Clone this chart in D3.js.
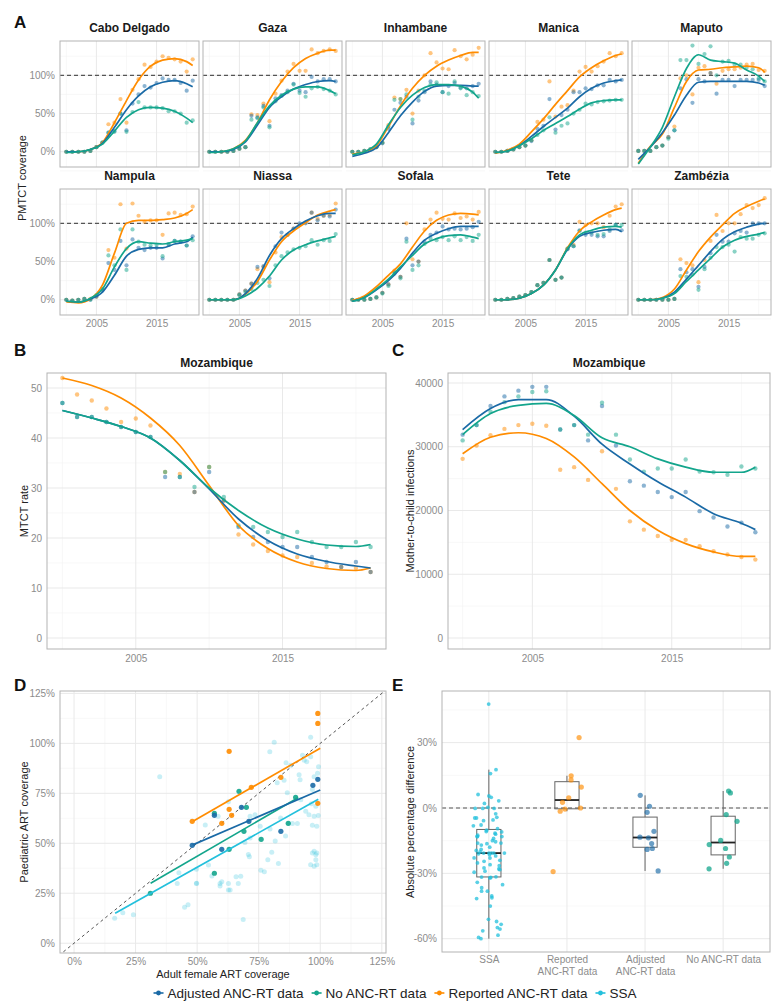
<!DOCTYPE html>
<html>
<head>
<meta charset="utf-8">
<script src="https://cdn.jsdelivr.net/npm/d3@7"></script>
<style>
  body { margin: 0; background: #fff; }
  svg { font-family: "Liberation Sans", Arial, sans-serif; }
</style>
</head>
<body>
<svg id="fig" width="779" height="1006"></svg>
<script>
// ---------- data ----------
const years = [2000,2001,2002,2003,2004,2005,2006,2007,2008,2009,2010,2011,2012,2013,2014,2015,2016,2017,2018,2019,2020,2021];
const fitYears = [2000,2002,2004,2006,2008,2010,2012,2014,2016,2018,2020,2021];
const provinces = ["Cabo Delgado","Gaza","Inhambane","Manica","Maputo","Nampula","Niassa","Sofala","Tete","Zambézia"];

// panel A: PMTCT coverage (%), one row per province
const reportedPts = [
  [0,0,0,0,1,6,12,36,38,69,38,81,95,114,111,118,125,123,121,118,105,121],
  [0,0,0,0,1,4,6,49,48,63,40,76,93,105,115,106,106,134,129,132,134,132],
  [0,0,1,3,6,12,35,71,69,81,50,80,100,129,117,109,108,133,125,121,127,136],
  [0,0,1,3,6,8,15,39,42,92,46,59,61,80,105,111,105,112,118,129,125,129],
  [1,1,1,6,8,19,33,96,100,75,110,112,103,89,106,108,108,110,114,115,107,106],
  [0,-1,0,1,1,4,14,65,55,125,67,126,110,102,104,104,85,113,114,111,112,122],
  [0,0,0,0,0,7,12,21,40,43,23,62,82,85,93,98,101,114,106,110,111,126],
  [0,0,0,1,3,9,20,38,30,100,53,50,92,105,114,106,105,113,107,109,105,115],
  [0,0,1,2,4,6,10,19,22,52,26,29,67,72,102,98,100,100,95,110,122,125],
  [0,0,0,0,0,0,1,53,48,45,23,52,77,111,90,100,100,112,124,120,124,133]
];
const adjustedPts = [
  [0,0,0,0,1,6,12,25,27,50,28,63,75,86,84,90,96,94,94,90,80,93],
  [0,0,0,0,1,4,6,47,45,60,34,70,74,80,89,80,78,98,92,95,95,92],
  [0,0,1,3,6,11,30,55,64,72,37,67,78,92,88,78,86,90,84,83,86,89],
  [0,0,1,3,6,8,14,30,34,69,29,48,55,78,78,83,82,87,87,94,92,94],
  [1,1,1,6,8,19,28,83,95,64,95,92,103,76,94,94,86,94,94,94,94,86],
  [0,-1,0,1,0,4,12,48,39,77,45,79,68,65,68,68,54,72,77,76,71,83],
  [0,0,0,0,0,7,12,21,43,44,28,70,88,85,93,100,100,114,104,110,109,118],
  [0,0,0,1,3,9,20,36,30,80,45,50,76,85,88,96,92,93,92,93,95,102],
  [0,0,1,2,4,6,10,19,22,52,26,29,66,70,91,85,85,83,83,90,98,91],
  [0,0,0,0,0,0,1,40,36,40,17,43,61,85,76,76,87,90,88,100,100,100]
];
const noAncPts = [
  [0,0,0,0,1,6,12,25,26,50,26,52,65,58,58,58,57,53,53,50,38,41],
  [0,0,0,0,1,4,6,42,44,58,32,66,73,78,88,77,72,83,85,82,80,75],
  [0,0,1,3,6,12,33,68,69,75,42,72,80,88,91,78,76,92,83,74,78,73],
  [0,0,1,3,6,8,15,22,28,45,25,34,37,50,55,63,62,65,66,67,68,68],
  [1,1,1,6,8,17,28,120,120,139,115,128,138,100,118,119,114,114,110,108,96,92],
  [0,-1,0,1,0,6,14,58,45,92,39,92,76,72,71,72,57,73,77,76,71,78],
  [0,0,0,0,0,6,10,14,22,26,18,45,57,62,66,68,70,78,72,78,77,86],
  [0,0,0,1,3,8,18,34,28,76,39,45,73,80,78,82,78,83,78,82,77,85],
  [0,0,1,2,4,6,10,19,22,52,26,29,67,70,90,88,88,85,86,92,98,98],
  [0,0,0,0,0,0,1,31,30,33,13,40,55,69,69,72,63,82,80,80,85,87]
];
const reportedFit = [
  [0,0,3,12,38,67,94,112,120,122,118,113],
  [0,0,4,15,38,68,92,110,122,129,133,133],
  [-3,0,8,33,60,83,100,112,120,126,130,130],
  [-2,2,10,26,43,62,80,98,110,119,126,128],
  [-15,7,23,58,92,107,108,110,111,112,110,104],
  [-3,-4,1,19,61,100,104,104,105,107,113,118],
  [0,0,0,7,24,52,76,90,101,111,116,118],
  [-1,5,17,32,47,69,90,104,111,113,112,111],
  [0,0,2,8,19,39,68,90,102,111,118,120],
  [0,0,3,14,39,63,82,98,113,122,129,132]
];
const adjustedFit = [
  [0,0,3,11,32,55,73,85,91,93,89,85],
  [0,0,3,13,35,58,72,82,88,92,93,92],
  [-6,-2,5,25,47,65,79,86,87,87,86,86],
  [-1,1,8,20,33,45,57,72,83,90,93,94],
  [-10,6,25,48,74,91,92,92,92,92,90,87],
  [-2,-3,1,10,32,57,66,68,68,73,76,82],
  [0,0,0,8,28,58,80,93,103,110,113,113],
  [-2,3,13,25,41,61,78,87,93,96,96,96],
  [0,0,2,8,19,39,66,83,88,91,92,89],
  [0,0,2,10,27,45,63,79,89,95,99,100]
];
const noAncFit = [
  [-1,0,3,10,27,45,55,58,57,53,44,38],
  [-1,0,4,14,38,60,74,82,85,85,80,76],
  [-4,0,10,35,58,74,84,88,88,86,78,70],
  [-1,1,8,17,28,37,46,56,64,67,68,68],
  [-16,6,32,72,109,127,120,118,116,107,99,92],
  [-2,-3,2,14,43,67,76,74,73,76,78,80],
  [0,0,0,5,15,31,52,65,72,77,81,83],
  [-2,3,14,27,43,58,73,80,84,85,82,80],
  [0,0,2,8,19,39,67,85,91,95,96,95],
  [0,0,2,8,24,39,54,69,78,83,86,88]
];

// panel B: MTCT rate, Mozambique
const mtctReported = [52,48.7,47.5,45.9,43.2,43.9,42.5,33.2,32.8,29.2,34.2,27.5,20.7,18.7,17.4,16.5,16.2,15,14.3,14.2,14,13.2];
const mtctAdjusted = [47,44.2,44.2,43.2,42.2,41.2,40.2,32.2,32.2,29.2,33.2,27.5,22.2,20.2,19.2,18.2,18.2,16.2,15.2,14.2,15.2,13.2];
const mtctNoAnc    = [47,44.2,44.2,43.2,42.2,41.2,40.2,33.2,32.2,30.2,34.2,28.2,22.5,22.2,21.2,20.2,21.2,19.2,18.2,18.2,19.2,18.2];
const mtctReportedFit = [52,50.5,48,44,38.5,30.5,22.5,17.9,15.2,13.9,13.5,14];
const mtctAdjustedFit = [45.5,44,42.3,40,35.5,29.8,23.8,19.5,16.8,15.3,14.4,14];
const mtctNoAncFit    = [45.5,44,42.3,40,35.5,30,25.5,22,19.8,18.6,18.3,18.7];

// panel C: mother-to-child infections (thousands), Mozambique
const infReported = [28.1,30.2,31.8,32.8,33.4,33.6,33.3,26.4,26.8,24.8,29.3,23.4,18.3,17.0,16.0,15.4,15.4,14.4,13.6,13.1,12.7,12.3];
const infAdjusted = [31.9,33.4,36.4,37.9,38.8,39.4,39.4,32.7,33.4,31.0,36.4,30.2,24.6,23.9,22.9,22.1,22.9,19.9,18.9,17.5,18.1,16.6];
const infNoAnc    = [31.0,33.4,35.5,37.0,37.9,38.6,38.7,32.7,33.4,31.9,36.9,31.9,28.0,26.1,26.6,26.6,28.0,26.1,26.0,25.6,26.9,26.6];
const infReportedFit = [28.9,31.5,32.2,31.3,28.4,24.2,20.0,16.9,14.8,13.5,12.8,12.8];
const infAdjustedFit = [32.7,36.0,37.4,37.4,34.8,30.4,27.3,24.5,22.1,19.5,18.0,17.0];
const infNoAncFit    = [31.9,35.2,36.5,36.8,34.9,31.4,30.0,28.1,26.8,26.0,26.0,26.8];

// panel D: adult female vs paediatric ART coverage (%)
const artReportedX = [48,63,63,64,60,72,84,99,99,99];
const artReportedY = [61,96,67,64,60,78,83,115,110,70];
const artAdjustedX = [48,60,68,57,71,84,97,99];
const artAdjustedY = [49,47,68,64,61,56,79,82];
const artNoAncX = [31,57,57,63,67,69,70,76,87,90];
const artNoAncY = [25,65,35,47,76,56,68,52,60,73];
const artSsaX = [16.5,19.8,24.1,34.8,42.6,41.9,44.9,46.3,49.7,49.7,53.3,54.6,56,59.3,59.3,62.7,62.7,65.8,66.7,68.7,69.4,70.8,71.2,71.5,73.5,75.6,75.9,79.5,78.7,79.6,80.3,81.3,81.7,82.5,83,83.9,85.3,85.9,86.1,86.6,87.1,88,88.7,90.7,91.4,91.8,92.1,92.8,93.5,94.1,94.5,95.4,96.1,96.1,96.4,96.8,97.5,97.5,96.8,98.2,98.6,98.2,98.6,96.1,97.5,99.3,98.9,97.5,98.6,99.2,98.2,96.8,71.5,58.5,62.7,49.8,60,63.4,67.7,77.3];
const artSsaY = [12.5,15.3,14.2,83.3,35.3,29.9,18,19.2,29.9,37,59.1,39.1,33.6,29.9,28.6,26.6,29.9,33.3,29.9,11.9,50.4,44.4,43.2,52.6,64.3,58.5,36.5,95.8,41.8,57.2,45.5,100.5,51.1,80.3,39.9,62.6,81.6,53.6,90.3,75.3,59.9,89.1,59.9,59.9,84.3,81.8,71.8,94.1,91.6,66,90.8,64.3,103,93.3,69.8,59,63.5,46,45.1,44.3,45.1,41.8,39.3,39.3,38.5,88.3,85,83.3,58.5,63.9,68.5,76.9,63.5,63.5,70.8,30,30.8,26.6,33.5,35.8];
// fitted lines: [x0, x1], [y0, y1]
const fitReportedX = [48.5, 100], fitReportedY = [61.2, 97.6];
const fitAdjustedX = [48.2, 100], fitAdjustedY = [49.2, 76.7];
const fitNoAncX = [31.1, 91], fitNoAncY = [30, 72.8];
const fitSsaX = [16.7, 99.2], fitSsaY = [15, 72];

// panel E: absolute percentage difference (%)
const diffCategories = ["SSA", "Reported\nANC-RT data", "Adjusted\nANC-RT data", "No ANC-RT data"];
const diffSsa = [47.7,17.6,15.8,6.2,5.5,4.9,3.3,2.1,0.3,-0.2,-0.2,-0.2,-2.7,-4.3,-4.6,-4.6,-5.5,-5.8,-7.8,-8.2,-9.5,
  -10.2,-10.8,-11,-11.6,-12,-12.5,-13.1,-13.1,-13.1,-14,-15,-15.5,-16.1,-16.1,-16.4,-17,-18,-19,-19.5,-20.2,-20.7,-20.7,-20.7,-20.7,-20.7,
  -21,-21.5,-22,-22.9,-23,-24,-24.5,-25.2,-26,-26.5,-27.5,-28,-28.3,-29,-29.5,-31.6,-31.7,-31.9,
  -32.1,-34.1,-35.2,-36.6,-38.2,-38.2,-40.4,-41.2,-41.6,-45,-51.1,-52.1,-53.4,-54.9,-55.6,-56.4,-58.4,-59.4,-60];
const diffReported = [32.3,14.8,9.6,12.9,4.7,2.6,-1.5,-0.5,0,-29.2];
const diffAdjusted = [0.8,-2,-10.7,-19,-13.4,-13.7,-16.3,-18.6,-28.9,5.8];
const diffNoAnc = [6.9,7.8,-3,-6.1,-14.9,-16.8,-18.6,-22.5,-25.4,-27.9];

const legendLabels = ["Adjusted ANC-RT data", "No ANC-RT data", "Reported ANC-RT data", "SSA"];

// ---------- styling ----------
const col = {adjusted: "#1a6aa6", noAnc: "#13a58c", reported: "#ff8c00", ssa: "#23c0dc"};
const gridMajor = "#e9e9e9", gridMinor = "#f4f4f4", borderCol = "#b3b3b3", tickCol = "#8c8c8c";

const svg = d3.select("#fig");
let clipN = 0;

// draws grid + frame, returns body group for marks
function makePanel(x0, y0, w, h, xs, ys, grid) {
  const g = svg.append("g").attr("transform", `translate(${x0},${y0})`);
  const id = "clip" + (clipN++);
  g.append("clipPath").attr("id", id).append("rect").attr("width", w).attr("height", h);
  (grid.yMinor || []).forEach(v => g.append("line").attr("x1", 0).attr("x2", w)
    .attr("y1", ys(v)).attr("y2", ys(v)).attr("stroke", gridMinor).attr("stroke-width", 0.6));
  (grid.xMinor || []).forEach(v => g.append("line").attr("y1", 0).attr("y2", h)
    .attr("x1", xs(v)).attr("x2", xs(v)).attr("stroke", gridMinor).attr("stroke-width", 0.6));
  (grid.yMajor || []).forEach(v => g.append("line").attr("x1", 0).attr("x2", w)
    .attr("y1", ys(v)).attr("y2", ys(v)).attr("stroke", gridMajor).attr("stroke-width", 1));
  (grid.xMajor || []).forEach(v => g.append("line").attr("y1", 0).attr("y2", h)
    .attr("x1", xs(v)).attr("x2", xs(v)).attr("stroke", gridMajor).attr("stroke-width", 1));
  const body = g.append("g").attr("clip-path", `url(#${id})`);
  g.append("rect").attr("width", w).attr("height", h).attr("fill", "none")
    .attr("stroke", borderCol).attr("stroke-width", 1);
  return {g, body};
}

function styleAxis(sel, size) {
  sel.select(".domain").remove();
  sel.selectAll("text").attr("fill", tickCol).attr("font-size", size || 10)
    .attr("font-family", '"Liberation Sans", Arial, sans-serif');
}

function strip(x, y, label) {
  svg.append("text").attr("x", x).attr("y", y).attr("text-anchor", "middle")
    .attr("font-size", 12).attr("font-weight", "bold").attr("fill", "#1a1a1a").text(label);
}

function yTitle(x, y, label) {
  svg.append("text").attr("transform", `translate(${x},${y}) rotate(-90)`)
    .attr("text-anchor", "middle").attr("font-size", 11).attr("fill", "#222").text(label);
}

function tag(x, y, label) {
  svg.append("text").attr("x", x).attr("y", y).attr("font-size", 17)
    .attr("font-weight", "bold").attr("fill", "#111").text(label);
}

function dots(body, xs, ys, xv, yv, color, r, op) {
  body.selectAll(null).data(xv.map((x, i) => [x, yv[i]])).enter().append("circle")
    .attr("cx", d => xs(d[0])).attr("cy", d => ys(d[1])).attr("r", r)
    .attr("fill", color).attr("fill-opacity", op);
}

function curve(body, xs, ys, xv, yv, color) {
  const line = d3.line().x(d => xs(d[0])).y(d => ys(d[1])).curve(d3.curveMonotoneX);
  body.append("path").datum(xv.map((x, i) => [x, yv[i]])).attr("d", line)
    .attr("fill", "none").attr("stroke", color).attr("stroke-width", 1.7);
}

// deterministic scatter for the jittered points (hash of the index)
function jitter(i) {
  let h = Math.imul(i + 11, 2654435761);
  h ^= h >>> 13;
  h = Math.imul(h, 1274126177);
  h ^= h >>> 16;
  return (h >>> 0) / 4294967296 - 0.5;
}

// ---------- panel A ----------
tag(14, 28, "A");
const aW = 139, aH = 126;
const xA = d3.scaleLinear().domain([1998.95, 2022.05]).range([0, aW]);
const yA = d3.scaleLinear().domain([-20, 145]).range([aH, 0]);
const rowsY = [41, 189];
provinces.forEach((p, i) => {
  const r = Math.floor(i / 5), c = i % 5;
  const x0 = 60 + c * 143, y0 = rowsY[r];
  const {g, body} = makePanel(x0, y0, aW, aH, xA, yA, {
    xMajor: [2005, 2015], xMinor: [2000, 2010, 2020],
    yMajor: [0, 50, 100], yMinor: [-25, 25, 75, 125]
  });
  strip(x0 + aW / 2, y0 - 9, p);
  body.append("line").attr("x1", 0).attr("x2", aW).attr("y1", yA(100)).attr("y2", yA(100))
    .attr("stroke", "#555").attr("stroke-width", 1.1).attr("stroke-dasharray", "4,3");
  dots(body, xA, yA, years, reportedPts[i], col.reported, 2.1, 0.5);
  dots(body, xA, yA, years, adjustedPts[i], col.adjusted, 2.1, 0.5);
  dots(body, xA, yA, years, noAncPts[i], col.noAnc, 2.1, 0.5);
  curve(body, xA, yA, fitYears, reportedFit[i], col.reported);
  curve(body, xA, yA, fitYears, adjustedFit[i], col.adjusted);
  curve(body, xA, yA, fitYears, noAncFit[i], col.noAnc);
  if (c === 0) {
    g.append("g").call(d3.axisLeft(yA).tickValues([0, 50, 100]).tickFormat(d => d + "%")
      .tickSize(0).tickPadding(5)).call(styleAxis);
  }
  if (r === 1) {
    g.append("g").attr("transform", `translate(0,${aH})`)
      .call(d3.axisBottom(xA).tickValues([2005, 2015]).tickFormat(d3.format("d"))
      .tickSize(0).tickPadding(5)).call(styleAxis);
  }
});
yTitle(26, 178, "PMTCT coverage");

// ---------- panel B ----------
tag(14, 356, "B");
const bW = 339, bH = 276;
const xB = d3.scaleLinear().domain([1998.95, 2022.05]).range([0, bW]);
const yB = d3.scaleLinear().domain([-2.2, 53]).range([bH, 0]);
{
  const {g, body} = makePanel(47, 373, bW, bH, xB, yB, {
    xMajor: [2005, 2015], xMinor: [2000, 2010, 2020],
    yMajor: [0, 10, 20, 30, 40, 50], yMinor: [5, 15, 25, 35, 45]
  });
  dots(body, xB, yB, years, mtctReported, col.reported, 2.2, 0.5);
  dots(body, xB, yB, years, mtctAdjusted, col.adjusted, 2.2, 0.5);
  dots(body, xB, yB, years, mtctNoAnc, col.noAnc, 2.2, 0.5);
  curve(body, xB, yB, fitYears, mtctReportedFit, col.reported);
  curve(body, xB, yB, fitYears, mtctAdjustedFit, col.adjusted);
  curve(body, xB, yB, fitYears, mtctNoAncFit, col.noAnc);
  g.append("g").call(d3.axisLeft(yB).tickValues([0, 10, 20, 30, 40, 50]).tickSize(0).tickPadding(5)).call(styleAxis);
  g.append("g").attr("transform", `translate(0,${bH})`)
    .call(d3.axisBottom(xB).tickValues([2005, 2015]).tickFormat(d3.format("d")).tickSize(0).tickPadding(6)).call(styleAxis);
  strip(47 + bW / 2, 367, "Mozambique");
}
yTitle(28, 511, "MTCT rate");

// ---------- panel C ----------
tag(392, 356, "C");
const cW = 322, cH = 276;
const xC = d3.scaleLinear().domain([1998.95, 2022.05]).range([0, cW]);
const yC = d3.scaleLinear().domain([-1.725, 41.57]).range([cH, 0]);
{
  const {g, body} = makePanel(448, 373, cW, cH, xC, yC, {
    xMajor: [2005, 2015], xMinor: [2000, 2010, 2020],
    yMajor: [0, 10, 20, 30, 40], yMinor: [5, 15, 25, 35]
  });
  dots(body, xC, yC, years, infReported, col.reported, 2.2, 0.5);
  dots(body, xC, yC, years, infAdjusted, col.adjusted, 2.2, 0.5);
  dots(body, xC, yC, years, infNoAnc, col.noAnc, 2.2, 0.5);
  curve(body, xC, yC, fitYears, infReportedFit, col.reported);
  curve(body, xC, yC, fitYears, infAdjustedFit, col.adjusted);
  curve(body, xC, yC, fitYears, infNoAncFit, col.noAnc);
  g.append("g").call(d3.axisLeft(yC).tickValues([0, 10, 20, 30, 40]).tickFormat(d => d * 1000)
    .tickSize(0).tickPadding(5)).call(styleAxis);
  g.append("g").attr("transform", `translate(0,${cH})`)
    .call(d3.axisBottom(xC).tickValues([2005, 2015]).tickFormat(d3.format("d")).tickSize(0).tickPadding(6)).call(styleAxis);
  strip(448 + cW / 2, 367, "Mozambique");
}
yTitle(414, 511, "Mother-to-child infections");

// ---------- panel D ----------
tag(14, 691, "D");
const dW = 326, dH = 262;
const xD = d3.scaleLinear().domain([-5.7, 126.7]).range([0, dW]);
const yD = d3.scaleLinear().domain([-4.9, 126.2]).range([dH, 0]);
{
  const {g, body} = makePanel(60, 691, dW, dH, xD, yD, {
    xMajor: [0, 25, 50, 75, 100, 125], xMinor: [12.5, 37.5, 62.5, 87.5, 112.5],
    yMajor: [0, 25, 50, 75, 100, 125], yMinor: [12.5, 37.5, 62.5, 87.5, 112.5]
  });
  body.append("line").attr("x1", xD(-10)).attr("y1", yD(-10)).attr("x2", xD(140)).attr("y2", yD(140))
    .attr("stroke", "#555").attr("stroke-width", 1).attr("stroke-dasharray", "3,3");
  dots(body, xD, yD, artSsaX, artSsaY, col.ssa, 2.5, 0.25);
  dots(body, xD, yD, artNoAncX, artNoAncY, col.noAnc, 2.6, 0.9);
  dots(body, xD, yD, artAdjustedX, artAdjustedY, col.adjusted, 2.6, 0.9);
  dots(body, xD, yD, artReportedX, artReportedY, col.reported, 2.6, 0.9);
  const seg = (xv, yv, c) => body.append("line").attr("x1", xD(xv[0])).attr("x2", xD(xv[1]))
    .attr("y1", yD(yv[0])).attr("y2", yD(yv[1])).attr("stroke", c).attr("stroke-width", 1.7);
  seg(fitSsaX, fitSsaY, col.ssa);
  seg(fitNoAncX, fitNoAncY, col.noAnc);
  seg(fitAdjustedX, fitAdjustedY, col.adjusted);
  seg(fitReportedX, fitReportedY, col.reported);
  const pct = d => d + "%";
  g.append("g").call(d3.axisLeft(yD).tickValues([0, 25, 50, 75, 100, 125]).tickFormat(pct)
    .tickSize(0).tickPadding(5)).call(styleAxis);
  g.append("g").attr("transform", `translate(0,${dH})`)
    .call(d3.axisBottom(xD).tickValues([0, 25, 50, 75, 100, 125]).tickFormat(pct).tickSize(0).tickPadding(5)).call(styleAxis);
  svg.append("text").attr("x", 60 + dW / 2).attr("y", 978).attr("text-anchor", "middle")
    .attr("font-size", 11).attr("fill", "#222").text("Adult female ART coverage");
}
yTitle(28, 822, "Paediatric ART coverage");

// ---------- panel E ----------
tag(392, 691, "E");
const eW = 328, eH = 261;
const xE = d3.scalePoint().domain(diffCategories).range([0, eW]).padding(0.6);
const yE = d3.scaleLinear().domain([-66.1, 53.7]).range([eH, 0]);
{
  const {g, body} = makePanel(442, 691, eW, eH, v => v, yE, {
    yMajor: [-60, -30, 0, 30], yMinor: [-45, -15, 15, 45]
  });
  diffCategories.forEach(c => g.insert("line", "g").attr("y1", 0).attr("y2", eH)
    .attr("x1", xE(c)).attr("x2", xE(c)).attr("stroke", gridMajor));
  body.append("line").attr("x1", 0).attr("x2", eW).attr("y1", yE(0)).attr("y2", yE(0))
    .attr("stroke", "#555").attr("stroke-width", 1.1).attr("stroke-dasharray", "4,3");
  const groups = [[diffSsa, col.ssa, 1.9, 0.75], [diffReported, col.reported, 2.6, 0.65],
                  [diffAdjusted, col.adjusted, 2.6, 0.65], [diffNoAnc, col.noAnc, 2.6, 0.75]];
  const bw = xE.step() * 0.31;
  groups.forEach(([vals, c], k) => {
    const cx = xE(diffCategories[k]);
    const s = vals.slice().sort(d3.ascending);
    const q1 = d3.quantileSorted(s, 0.25), med = d3.quantileSorted(s, 0.5), q3 = d3.quantileSorted(s, 0.75);
    const iqr = q3 - q1;
    const lo = d3.min(s.filter(v => v >= q1 - 1.5 * iqr)), hi = d3.max(s.filter(v => v <= q3 + 1.5 * iqr));
    body.append("line").attr("x1", cx).attr("x2", cx).attr("y1", yE(hi)).attr("y2", yE(q3)).attr("stroke", "#666");
    body.append("line").attr("x1", cx).attr("x2", cx).attr("y1", yE(q1)).attr("y2", yE(lo)).attr("stroke", "#666");
    body.append("rect").attr("x", cx - bw / 2).attr("width", bw).attr("y", yE(q3)).attr("height", yE(q1) - yE(q3))
      .attr("fill", "none").attr("stroke", "#666");
    body.append("line").attr("x1", cx - bw / 2).attr("x2", cx + bw / 2).attr("y1", yE(med)).attr("y2", yE(med))
      .attr("stroke", "#222").attr("stroke-width", 1.8);
  });
  groups.forEach(([vals, c, r, op], k) => {
    const cx = xE(diffCategories[k]);
    body.selectAll(null).data(vals).enter().append("circle")
      .attr("cx", (d, i) => cx + jitter(i + k * 100) * xE.step() * 0.4)
      .attr("cy", d => yE(d)).attr("r", r).attr("fill", c).attr("fill-opacity", op);
  });
  g.append("g").call(d3.axisLeft(yE).tickValues([-60, -30, 0, 30]).tickFormat(d => d + "%")
    .tickSize(0).tickPadding(5)).call(styleAxis);
  const xa = g.append("g").attr("transform", `translate(0,${eH})`)
    .call(d3.axisBottom(xE).tickSize(0).tickPadding(6).tickFormat(""));
  xa.select(".domain").remove();
  xa.selectAll(".tick").each(function(d) {
    const t = d3.select(this).append("text").attr("fill", tickCol).attr("font-size", 10)
      .attr("text-anchor", "middle").attr("y", 11);
    d.split("\n").forEach((ln, j) => t.append("tspan").attr("x", 0).attr("dy", j ? 12 : 0).text(ln));
  });
}
yTitle(414, 822, "Absolute percentage difference");

// ---------- legend ----------
{
  const colors = [col.adjusted, col.noAnc, col.reported, col.ssa];
  const lg = svg.append("g");
  let lx = 0;
  legendLabels.forEach((lab, i) => {
    const it = lg.append("g").attr("transform", `translate(${lx},0)`);
    it.append("line").attr("x1", 0).attr("x2", 10).attr("stroke", colors[i]).attr("stroke-width", 1.6);
    it.append("circle").attr("cx", 5).attr("r", 2.4).attr("fill", colors[i]);
    const t = it.append("text").attr("x", 14).attr("dy", "0.35em").attr("font-size", 13.5)
      .attr("fill", "#222").text(lab);
    lx += 14 + t.node().getComputedTextLength() + 8;
  });
  lg.attr("transform", `translate(${395 - (lx - 8) / 2},993)`);
}
</script>
</body>
</html>
